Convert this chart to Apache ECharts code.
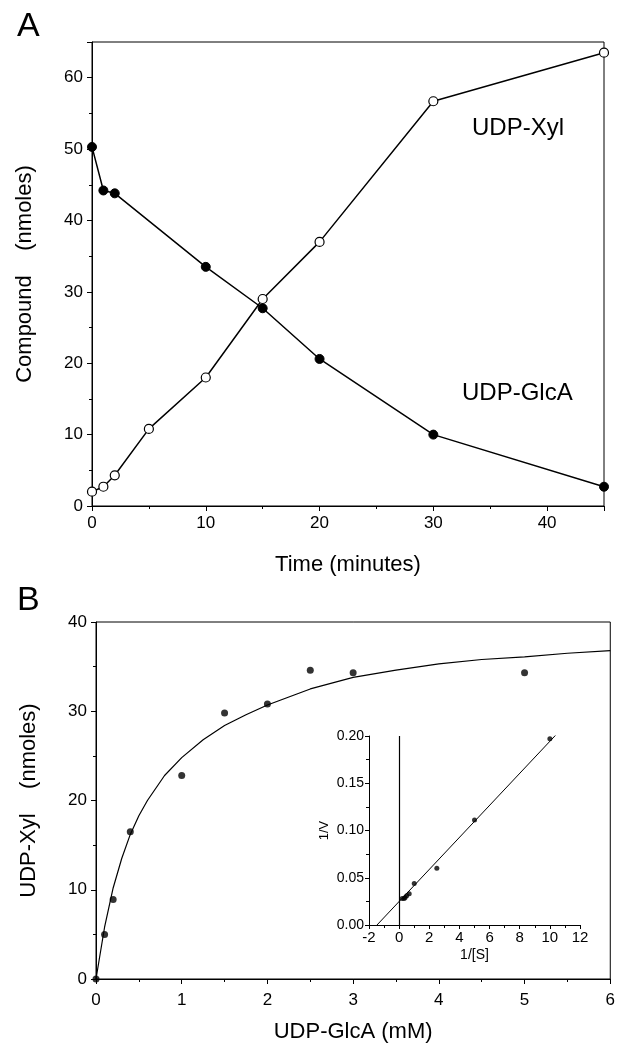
<!DOCTYPE html>
<html>
<head>
<meta charset="utf-8">
<script src="https://cdn.jsdelivr.net/npm/echarts@6/dist/echarts.min.js"></script>
<style>
html,body{margin:0;padding:0;background:#fff;}
#main{width:618px;height:1050px;}
</style>
</head>
<body>
<div id="main"></div>
<script>
// Panel A: time course
const timeGlcA = [0, 1, 2, 10, 15, 20, 30, 45];
const glcA     = [50.3, 44.2, 43.8, 33.5, 27.7, 20.6, 10.0, 2.7];
const timeXyl  = [0, 1, 2, 5, 10, 15, 20, 30, 45];
const xyl      = [2.0, 2.7, 4.3, 10.8, 18.0, 29.0, 37.0, 56.7, 63.5];

// Panel B: saturation
const concB = [0, 0.1, 0.2, 0.4, 1.0, 1.5, 2.0, 2.5, 3.0, 5.0];
const xylB  = [0, 5.0, 8.9, 16.5, 22.8, 29.8, 30.8, 34.6, 34.3, 34.3];
const fitX  = [0, 0.1, 0.2, 0.3, 0.4, 0.5, 0.6, 0.8, 1.0, 1.25, 1.5, 1.75, 2.0, 2.5, 3.0, 3.5, 4.0, 4.5, 5.0, 5.5, 6.0];
const fitY  = [0, 5.8, 10.2, 13.5, 16.2, 18.3, 20.0, 22.8, 24.8, 26.8, 28.4, 29.6, 30.7, 32.5, 33.8, 34.6, 35.3, 35.8, 36.1, 36.5, 36.8];

// Inset: double reciprocal
const invS = [10, 5, 2.5, 1, 0.667, 0.5, 0.4, 0.333, 0.2];
const invV = [0.197, 0.111, 0.060, 0.044, 0.033, 0.031, 0.029, 0.028, 0.028];
const lbX  = [-1.47, 10.45];
const lbY  = [0, 0.202];

// Tick labels
const ticksAx = [0, 10, 20, 30, 40];
const ticksAy = [0, 10, 20, 30, 40, 50, 60];

const zip = (a, b) => a.map((v, i) => [v, b[i]]);
const FONT = "'Liberation Sans', Arial, sans-serif";
const black = '#000';

function axisBase(fs) {
  return {
    axisLine: { show: true, onZero: false, lineStyle: { color: black, width: 1 } },
    axisTick: { show: true, inside: false, length: 5, lineStyle: { color: black } },
    minorTick: { show: true, splitNumber: 2, length: 3, lineStyle: { color: black } },
    splitLine: { show: false },
    axisLabel: { color: black, fontFamily: FONT, fontSize: fs },
    nameTextStyle: { color: black, fontFamily: FONT }
  };
}

const chart = echarts.init(document.getElementById('main'), null, { renderer: 'canvas' });

const option = {
  backgroundColor: '#fff',
  animation: false,
  grid: [
    { left: 92, top: 42, width: 512, height: 464, show: true, borderColor: black, borderWidth: 1, backgroundColor: 'transparent' },
    { left: 96, top: 622, width: 520, height: 357, show: true, borderColor: black, borderWidth: 1, backgroundColor: 'transparent' },
    { left: 369, top: 736, width: 211, height: 189, show: false }
  ],
  xAxis: [
    Object.assign(axisBase(17), {
      gridIndex: 0, type: 'value', min: 0, max: 45, interval: 10,
      name: 'Time (minutes)', nameLocation: 'middle', nameGap: 48,
      nameTextStyle: { color: black, fontFamily: FONT, fontSize: 22 },
      axisLabel: { color: black, fontFamily: FONT, fontSize: 17, margin: 9, showMaxLabel: false,
        formatter: v => ticksAx.includes(v) ? String(v) : '' }
    }),
    Object.assign(axisBase(17), {
      gridIndex: 1, type: 'value', min: 0, max: 6, interval: 1,
      name: 'UDP-GlcA (mM)', nameLocation: 'middle', nameGap: 42,
      nameTextStyle: { color: black, fontFamily: FONT, fontSize: 22 },
      axisLabel: { color: black, fontFamily: FONT, fontSize: 17, margin: 13 }
    }),
    Object.assign(axisBase(15), {
      gridIndex: 2, type: 'value', min: -2, max: 12, interval: 2,
      name: '1/[S]', nameLocation: 'middle', nameGap: 23,
      nameTextStyle: { color: black, fontFamily: FONT, fontSize: 14 },
      axisTick: { show: true, length: 4, lineStyle: { color: black } },
      axisLabel: { color: black, fontFamily: FONT, fontSize: 15, margin: 5 }
    })
  ],
  yAxis: [
    Object.assign(axisBase(17), {
      gridIndex: 0, type: 'value', min: 0, max: 65, interval: 10,
      name: 'Compound    (nmoles)', nameLocation: 'middle', nameGap: 56,
      nameTextStyle: { color: black, fontFamily: FONT, fontSize: 22 },
      axisLabel: { color: black, fontFamily: FONT, fontSize: 17, margin: 9, showMaxLabel: false,
        formatter: v => ticksAy.includes(v) ? String(v) : '' }
    }),
    Object.assign(axisBase(17), {
      gridIndex: 1, type: 'value', min: 0, max: 40, interval: 10,
      name: 'UDP-Xyl    (nmoles)', nameLocation: 'middle', nameGap: 56,
      nameTextStyle: { color: black, fontFamily: FONT, fontSize: 22 },
      axisLabel: { color: black, fontFamily: FONT, fontSize: 17, margin: 9 }
    }),
    Object.assign(axisBase(14), {
      gridIndex: 2, type: 'value', min: 0, max: 0.2, interval: 0.05,
      name: '1/V', nameLocation: 'middle', nameGap: 38,
      nameTextStyle: { color: black, fontFamily: FONT, fontSize: 13 },
      axisTick: { show: true, length: 4, lineStyle: { color: black } },
      axisLabel: { color: black, fontFamily: FONT, fontSize: 14, margin: 5, formatter: v => v.toFixed(2) }
    })
  ],
  series: [
    {
      name: 'UDP-GlcA', type: 'line', xAxisIndex: 0, yAxisIndex: 0,
      data: zip(timeGlcA, glcA),
      symbol: 'circle', symbolSize: 9,
      itemStyle: { color: black, borderColor: black },
      lineStyle: { color: black, width: 1.5 }, z: 3
    },
    {
      name: 'UDP-Xyl', type: 'line', xAxisIndex: 0, yAxisIndex: 0,
      data: zip(timeXyl, xyl),
      symbol: 'circle', symbolSize: 9,
      itemStyle: { color: '#fff', borderColor: black, borderWidth: 1.2 },
      lineStyle: { color: black, width: 1.5 }, z: 3
    },
    {
      name: 'fit', type: 'line', xAxisIndex: 1, yAxisIndex: 1,
      data: zip(fitX, fitY), showSymbol: false, symbol: 'none',
      lineStyle: { color: black, width: 1.2 }
    },
    {
      name: 'obs', type: 'scatter', xAxisIndex: 1, yAxisIndex: 1,
      data: zip(concB, xylB), symbol: 'circle', symbolSize: 7,
      itemStyle: { color: black }
    },
    {
      name: 'LB', type: 'line', xAxisIndex: 2, yAxisIndex: 2,
      data: zip(lbX, lbY), symbol: 'none',
      lineStyle: { color: black, width: 1 },
      markLine: {
        silent: true, symbol: 'none', label: { show: false },
        lineStyle: { color: black, width: 1.2, type: 'solid' },
        data: [{ xAxis: 0 }]
      }
    },
    {
      name: 'LBpts', type: 'scatter', xAxisIndex: 2, yAxisIndex: 2,
      data: zip(invS, invV), symbol: 'circle', symbolSize: 5,
      itemStyle: { color: black }
    }
  ],
  graphic: [
    { type: 'text', left: 17, top: 10, style: { text: 'A', font: '34px ' + FONT, fill: black } },
    { type: 'text', left: 17, top: 584, style: { text: 'B', font: '34px ' + FONT, fill: black } },
    { type: 'text', left: 472, top: 116, style: { text: 'UDP-Xyl', font: '24px ' + FONT, fill: black } },
    { type: 'text', left: 462, top: 381, style: { text: 'UDP-GlcA', font: '24px ' + FONT, fill: black } }
  ]
};
chart.setOption(option);
</script>
</body>
</html>
